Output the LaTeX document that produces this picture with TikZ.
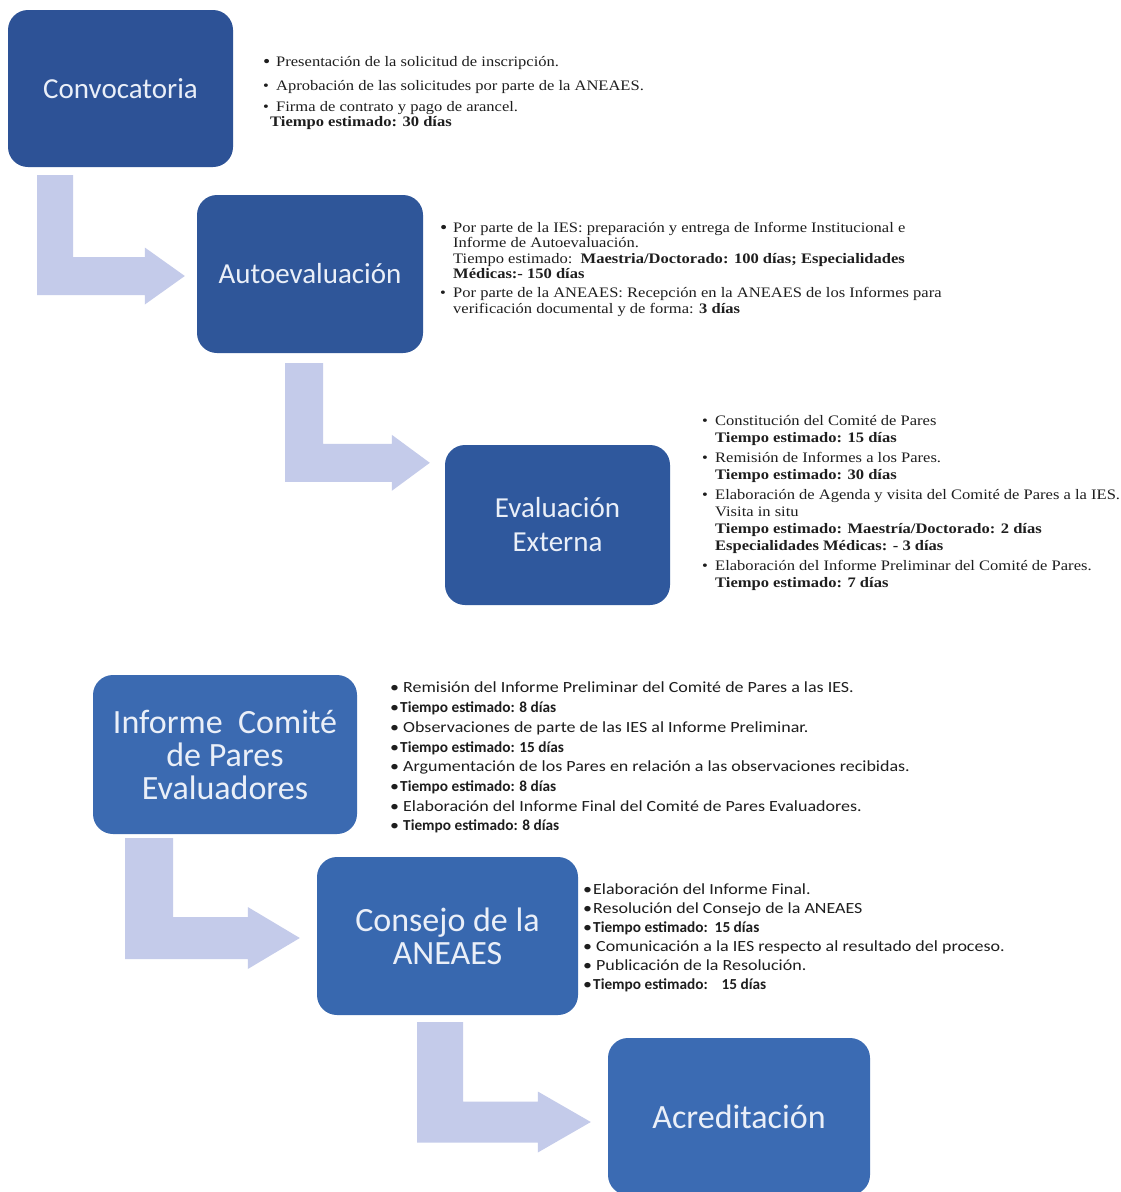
\documentclass[tikz,border=0pt]{standalone}
\usepackage{fontspec}
\setmainfont{Liberation Serif}[FakeStretch=1.14]
\newfontfamily\boxfont{Carlito}
\newfontfamily\sansblk{Carlito}[FakeStretch=1.16]
\newfontfamily\sansplain{Carlito}
\usetikzlibrary{calc}

\definecolor{boxA}{HTML}{2D5296}
\definecolor{boxB}{HTML}{2F5699}
\definecolor{boxC}{HTML}{2F589D}
\definecolor{boxD}{HTML}{3B6AB1}
\definecolor{boxE}{HTML}{3868AF}
\definecolor{boxF}{HTML}{3B6BB3}
\definecolor{arrowfill}{HTML}{C4CBEA}
\definecolor{boxtext}{HTML}{EAEFF8}
\definecolor{txt}{HTML}{1E1E1E}

\newcommand{\bl}[1]{\makebox[13pt][l]{\textbullet}#1}
\newcommand{\bbl}[1]{\makebox[13pt][l]{\raisebox{-1pt}{\fontsize{18}{15}\selectfont\textbullet}}#1}
\newcommand{\ind}{\hspace*{13pt}}
\newcommand{\sbl}[1]{\makebox[13pt][l]{\textbullet}#1}
\newcommand{\tbl}[1]{\makebox[10pt][l]{\textbullet}#1}
\newcommand{\stb}[1]{{\sansplain\bfseries\fontsize{15.3}{19}\selectfont #1}}

% #1 start, #2 tip, #3 half bar, #4 half shaft, #5 head length, #6 half head
\newcommand{\bentarrow}[6]{%
  \fill[arrowfill] ($(#1)+(-#3,0)$) -- ($(#1)+(#3,0)$) -- ($(#1|-#2)+(#3,-#4)$)
    -- ($(#2)+(-#5,-#4)$) -- ($(#2)+(-#5,-#6)$) -- (#2) -- ($(#2)+(-#5,#6)$)
    -- ($(#2)+(-#5,#4)$) -- ($(#1|-#2)+(-#3,#4)$) -- cycle;}

\tikzset{
  stage/.style={rectangle, rounded corners=20pt, draw=none, text=boxtext,
    align=center, inner sep=0pt,
    font=\boxfont\fontsize{29}{34}\selectfont},
  bigstage/.style={stage, font=\boxfont\fontsize{34}{33}\selectfont},
  serifblock/.style={anchor=north west, inner sep=0pt, align=left, text=txt,
    font=\fontsize{14.5}{15.5}\selectfont},
  sansblock/.style={anchor=north west, inner sep=0pt, align=left, text=txt,
    font=\sansblk\fontsize{15.5}{19.7}\selectfont}
}

\begin{document}
\begin{tikzpicture}[x=1pt,y=-1pt]
\useasboundingbox (0,0) rectangle (1120,1192);
\fill[white] (0,0) rectangle (1120,1192);

% stage boxes
\node[stage, fill=boxA, minimum width=225pt, minimum height=157pt] (b1) at (120.5,88.5) {Convocatoria};
\node[stage, fill=boxB, minimum width=226pt, minimum height=158pt] (b2) at (310,274) {Autoevaluación};
\node[stage, fill=boxC, minimum width=225pt, minimum height=160pt] (b3) at (557.5,525) {Evaluación\\Externa};
\node[bigstage, fill=boxD, minimum width=264pt, minimum height=159pt] (b4) at (225,754.5) {Informe\ \ Comité\\de Pares\\Evaluadores};
\node[bigstage, fill=boxE, minimum width=261pt, minimum height=158pt] (b5) at (447.5,936) {Consejo de la\\ANEAES};
\node[bigstage, fill=boxF, minimum width=262pt, minimum height=157pt] (b6) at (739,1116.5) {Acreditación};

% bent arrows
\coordinate (a1s) at ($(b1.south)+(-65.5,8)$);
\coordinate (a1e) at ($(b2.west)+(-12,2)$);
\bentarrow{a1s}{a1e}{18}{19}{40}{28.5}
\coordinate (a2s) at ($(b2.south)+(-6,10)$);
\coordinate (a2e) at ($(b3.north west)+(-15,18)$);
\bentarrow{a2s}{a2e}{19}{19}{38}{28}
\coordinate (a4s) at ($(b4.south)+(-76,4)$);
\coordinate (a4e) at ($(b5.west)+(-17,2)$);
\bentarrow{a4s}{a4e}{24}{21}{52}{31}
\coordinate (a5s) at ($(b5.south)+(-7.5,7)$);
\coordinate (a5e) at ($(b6.west)+(-17,5.5)$);
\bentarrow{a5s}{a5e}{23}{20.5}{53}{30.5}

% text blocks
\node[serifblock] (t1) at (263,56) {%
\bbl{Presentación de la solicitud de inscripción.}\\[8.5pt]
\bl{Aprobación de las solicitudes por parte de la ANEAES.}\\[5.5pt]
\bl{Firma de contrato y pago de arancel.}\\
\hspace*{7pt}\textbf{Tiempo estimado: 30 días}};

\node[serifblock] (t2) at (440,222) {%
\bbl{Por parte de la IES: preparación y entrega de Informe Institucional e}\\
\ind Informe de Autoevaluación.\\
\ind Tiempo estimado:\ \ \textbf{Maestria/Doctorado: 100 días; Especialidades}\\
\ind\textbf{Médicas:- 150 días}\\[3.5pt]
\bl{Por parte de la ANEAES: Recepción en la ANEAES de los Informes para}\\
\ind verificación documental y de forma: \textbf{3 días}};

\node[serifblock, font=\fontsize{14.5}{17}\selectfont] (t3) at (702,415) {%
\bl{Constitución del Comité de Pares}\\
\ind\textbf{Tiempo estimado: 15 días}\\[3pt]
\bl{Remisión de Informes a los Pares.}\\
\ind\textbf{Tiempo estimado: 30 días}\\[3pt]
\bl{Elaboración de Agenda y visita del Comité de Pares a la IES.}\\
\ind Visita in situ\\
\ind\textbf{Tiempo estimado: Maestría/Doctorado: 2 días}\\
\ind\textbf{Especialidades Médicas: - 3 días}\\[3pt]
\bl{Elaboración del Informe Preliminar del Comité de Pares.}\\
\ind\textbf{Tiempo estimado: 7 días}};

\node[sansblock] (t4) at (390,682) {%
\sbl{Remisión del Informe Preliminar del Comité de Pares a las IES.}\\
\tbl{\stb{Tiempo estimado: 8 días}}\\
\sbl{Observaciones de parte de las IES al Informe Preliminar.}\\
\tbl{\stb{Tiempo estimado: 15 días}}\\
\sbl{Argumentación de los Pares en relación a las observaciones recibidas.}\\
\tbl{\stb{Tiempo estimado: 8 días}}\\
\sbl{Elaboración del Informe Final del Comité de Pares Evaluadores.}\\
\sbl{\stb{Tiempo estimado: 8 días}}};

\node[sansblock, font=\sansblk\fontsize{15.5}{19}\selectfont] (t5) at (583,884) {%
\tbl{Elaboración del Informe Final.}\\
\tbl{Resolución del Consejo de la ANEAES}\\
\tbl{\stb{Tiempo estimado:\ \ 15 días}}\\
\sbl{Comunicación a la IES respecto al resultado del proceso.}\\
\sbl{Publicación de la Resolución.}\\
\tbl{\stb{Tiempo estimado:\ \ \ \ 15 días}}};
\end{tikzpicture}
\end{document}
